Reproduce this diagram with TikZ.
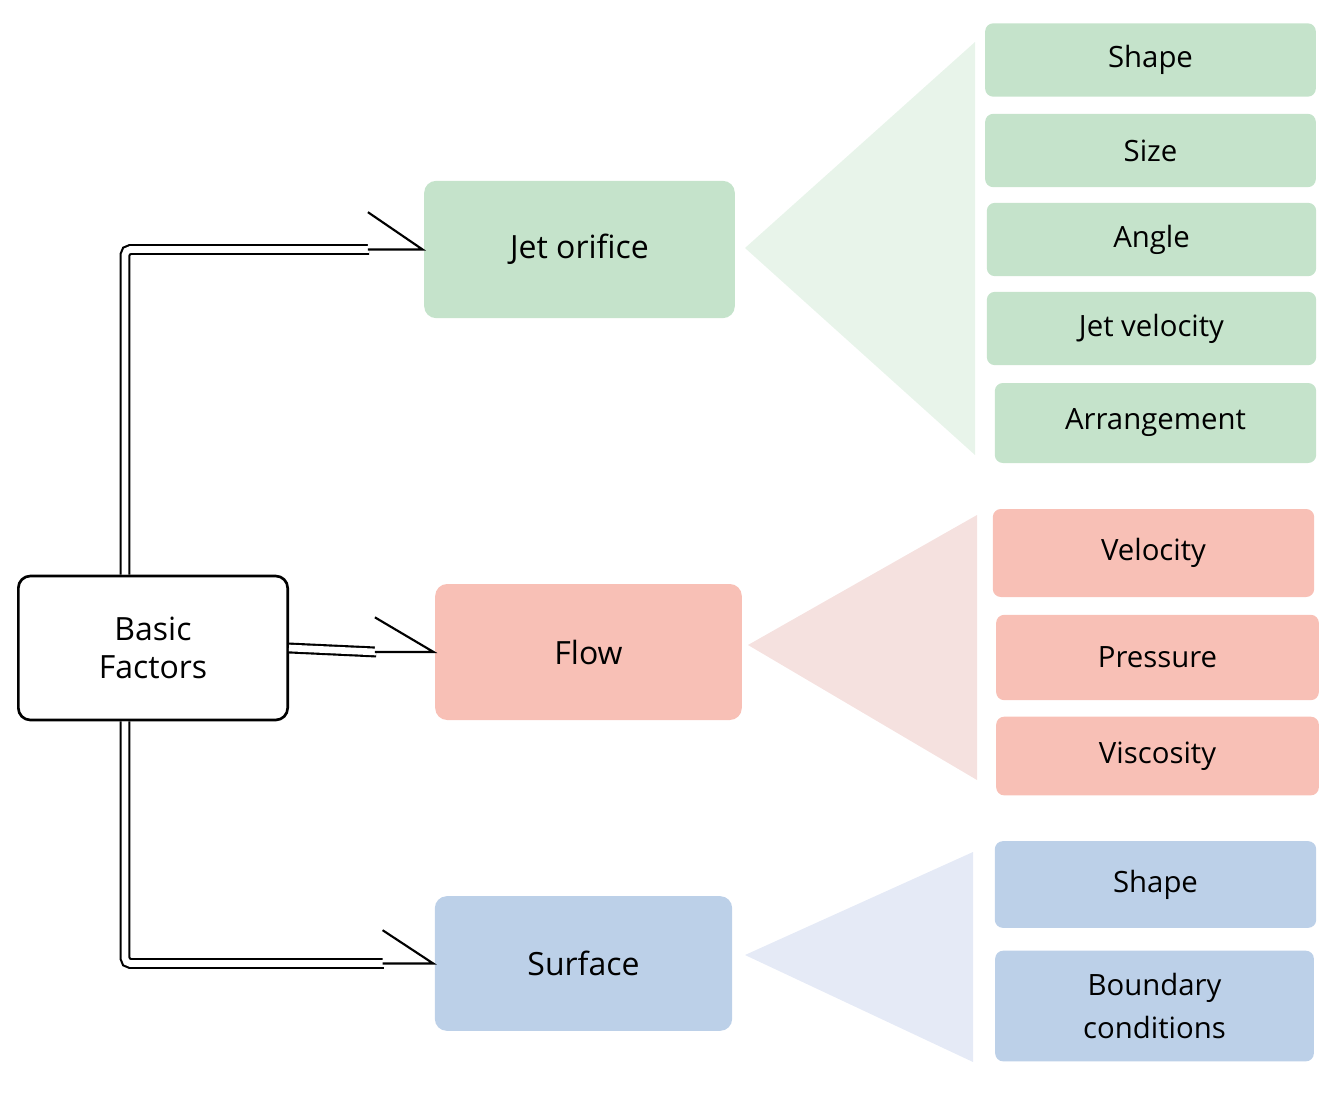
\documentclass[tikz,border=0pt]{standalone}
\usepackage{fontspec}
\setmainfont{Open Sans}
\usetikzlibrary{calc}
\definecolor{jetgreen}{RGB}{197,227,203}
\definecolor{jetlight}{RGB}{232,244,234}
\definecolor{flowpink}{RGB}{248,192,182}
\definecolor{flowlight}{RGB}{245,225,223}
\definecolor{surfblue}{RGB}{188,208,232}
\definecolor{surflight}{RGB}{229,234,246}
\tikzset{
  factorbox/.style={rounded corners=9pt, inner sep=0pt, align=center, font=\fontsize{24}{28}\selectfont},
  itembox/.style={rounded corners=6pt, inner sep=0pt, align=center, font=\fontsize{22}{24}\selectfont},
  dblline/.style={draw=black, line width=1.6pt, double=white, double distance=5pt},
  openhead/.style={draw=black, line width=1.6pt, fill=white, line join=miter}
}
\begin{document}
\begin{tikzpicture}[x=0.75pt,y=0.75pt,yscale=-1,xscale=1]
\useasboundingbox (0,0) rectangle (1338,1092);

% fans
\fill[jetlight] (745,248) -- (975,42) -- (975,455) -- cycle;
\fill[flowlight] (748,645) -- (977,515) -- (977,780) -- cycle;
\fill[surflight] (745,955) -- (973,852) -- (973,1062) -- cycle;

% main boxes
\node[factorbox, draw=black, line width=2pt, minimum width=202pt, minimum height=108pt] (basic) at (153,648) {Basic\\Factors};
\node[factorbox, fill=jetgreen, minimum width=233pt, minimum height=103pt] (jet) at (579.5,249.5) {Jet orifice};
\node[factorbox, fill=flowpink, minimum width=230pt, minimum height=102pt] (flow) at (588.5,652) {Flow};
\node[factorbox, fill=surfblue, minimum width=223pt, minimum height=101pt] (surface) at (583.5,963.5) {Surface};

% items
\node[itembox, fill=jetgreen, minimum width=248pt, minimum height=55pt] (shapeA) at (1150.5,60) {Shape};
\node[itembox, fill=jetgreen, minimum width=248pt, minimum height=55pt] (size) at (1150.5,150.5) {Size};
\node[itembox, fill=jetgreen, minimum width=247pt, minimum height=55pt] (angle) at (1151.5,239.5) {Angle};
\node[itembox, fill=jetgreen, minimum width=247pt, minimum height=55pt] (jetvel) at (1151.5,328.5) {Jet velocity};
\node[itembox, fill=jetgreen, minimum width=241pt, minimum height=60pt] (arrange) at (1155.5,423) {Arrangement};
\node[itembox, fill=flowpink, minimum width=241pt, minimum height=66pt] (velocity) at (1153.5,553) {Velocity};
\node[itembox, fill=flowpink, minimum width=242pt, minimum height=64pt] (pressure) at (1157.5,657.5) {Pressure};
\node[itembox, fill=flowpink, minimum width=242pt, minimum height=59pt] (viscosity) at (1157.5,756) {Viscosity};
\node[itembox, fill=surfblue, minimum width=241pt, minimum height=65pt] (shapeB) at (1155.5,884.5) {Shape};
\node[itembox, fill=surfblue, minimum width=239pt, minimum height=83pt, font=\fontsize{22}{32}\selectfont] (boundary) at (1154.5,1006) {Boundary\\conditions};

% hollow arrows
\coordinate (topturn) at ([xshift=-21pt]basic.north |- jet.west);
\coordinate (botturn) at ([xshift=-21pt]basic.south |- surface.west);
\draw[dblline, rounded corners=4pt] ([xshift=-21pt]basic.north) -- (topturn) -- ([xshift=-41pt]jet.west);
\draw[openhead] ([xshift=-42pt]jet.west) ++(0,-28pt) -- ([xshift=-1pt]jet.west) -- ([xshift=-42pt]jet.west) ++(0,28pt) -- cycle;
\draw[dblline] (basic.east) -- ([xshift=-44pt]flow.west);
\draw[openhead] ([xshift=-45pt]flow.west) ++(0,-26pt) -- ([xshift=-1pt]flow.west) -- ([xshift=-45pt]flow.west) ++(0,26pt) -- cycle;
\draw[dblline, rounded corners=4pt] ([xshift=-21pt]basic.south) -- (botturn) -- ([xshift=-38pt]surface.west);
\draw[openhead] ([xshift=-39pt]surface.west) ++(0,-25pt) -- ([xshift=-1pt]surface.west) -- ([xshift=-39pt]surface.west) ++(0,25pt) -- cycle;
\end{tikzpicture}
\end{document}
